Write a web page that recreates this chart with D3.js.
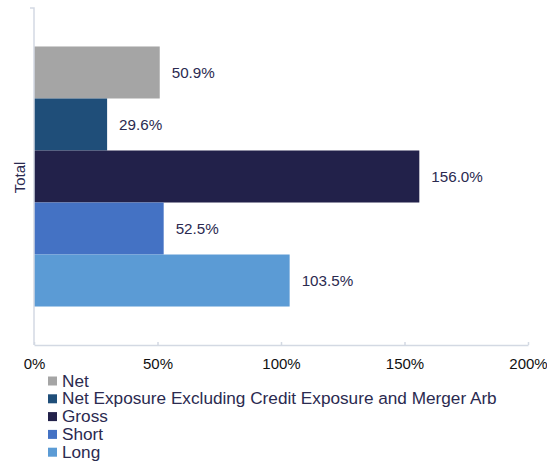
<!DOCTYPE html>
<html>
<head>
<meta charset="utf-8">
<script src="https://cdn.jsdelivr.net/npm/d3@7"></script>
<style>
  html, body { margin: 0; padding: 0; background: #fff; }
  svg { display: block; font-family: "Liberation Sans", Arial, sans-serif; }
</style>
</head>
<body>
<svg id="chart" width="547" height="461"></svg>
<script>
// Exposure breakdown for the fund (single category, one bar per measure)
const categories = ["Total"];
const seriesNames = ["Net", "Net Exposure Excluding Credit Exposure and Merger Arb", "Gross", "Short", "Long"];
const seriesValues = [50.9, 29.6, 156.0, 52.5, 103.5];
const seriesColors = ["#a5a5a5", "#1f4e79", "#22214a", "#4472c4", "#5b9bd5"];
const xTicks = [0, 50, 100, 150, 200];

const textColor = "#2b2a50";
const axisColor = "#d3d9e3";

const svg = d3.select("#chart");
const plot = { left: 34, right: 528, top: 8, bottom: 345 };

const x = d3.scaleLinear().domain([0, 200]).range([plot.left, plot.right]);
const y = d3.scaleBand().domain(categories).range([plot.top, plot.bottom]).paddingOuter(0.148).paddingInner(0);
const ySeries = d3.scaleBand().domain(seriesNames).range([0, y.bandwidth()]).padding(0);

const rows = seriesNames.map((name, i) => ({ name, value: seriesValues[i], color: seriesColors[i] }));

// bars
const g = svg.append("g");
categories.forEach(cat => {
  const group = g.append("g").attr("transform", `translate(0,${y(cat)})`);
  group.selectAll("rect").data(rows).join("rect")
    .attr("x", x(0))
    .attr("y", d => ySeries(d.name))
    .attr("width", d => x(d.value) - x(0))
    .attr("height", ySeries.bandwidth())
    .attr("fill", d => d.color);
  group.selectAll("text.val").data(rows).join("text")
    .attr("class", "val")
    .attr("x", d => x(d.value) + 12)
    .attr("y", d => ySeries(d.name) + ySeries.bandwidth() / 2 + 1)
    .attr("dominant-baseline", "middle")
    .attr("font-size", 15.2)
    .attr("fill", textColor)
    .text(d => d.value.toFixed(1) + "%");
});

// x axis
const xAxis = svg.append("g")
  .attr("transform", `translate(0,${plot.bottom})`)
  .call(d3.axisBottom(x).tickValues(xTicks).tickFormat(d => d + "%").tickSizeInner(-3).tickSizeOuter(0).tickPadding(10));
xAxis.select(".domain").attr("stroke", axisColor).attr("stroke-width", 1.5);
xAxis.selectAll(".tick line").attr("stroke", axisColor).attr("stroke-width", 1.5);
xAxis.selectAll(".tick text").attr("font-size", 15).attr("fill", "#111").attr("font-family", "Liberation Sans, Arial, sans-serif").attr("dy", "0.9em");

// y axis
const yAxis = svg.append("g")
  .attr("transform", `translate(${plot.left},0)`)
  .call(d3.axisLeft(y).tickSize(0).tickFormat(() => ""));
yAxis.select(".domain").remove();
yAxis.append("path")
  .attr("d", `M-4,${plot.top}H0V${plot.bottom}`)
  .attr("fill", "none")
  .attr("stroke", axisColor)
  .attr("stroke-width", 1.5);

// category label
categories.forEach(cat => {
  svg.append("text")
    .attr("transform", `translate(25,${y(cat) + y.bandwidth() / 2 + 1}) rotate(-90)`)
    .attr("text-anchor", "middle")
    .attr("font-size", 15)
    .attr("fill", textColor)
    .text(cat);
});

// legend
const legend = svg.append("g").attr("transform", "translate(48,381)");
const item = legend.selectAll("g").data(rows).join("g")
  .attr("transform", (d, i) => `translate(0,${i * 17.8})`);
item.append("rect")
  .attr("x", 0).attr("y", -4.5)
  .attr("width", 9).attr("height", 9)
  .attr("fill", d => d.color);
item.append("text")
  .attr("x", 14)
  .attr("y", 1)
  .attr("dominant-baseline", "middle")
  .attr("font-size", 17.2)
  .attr("fill", textColor)
  .text(d => d.name);
</script>
</body>
</html>
